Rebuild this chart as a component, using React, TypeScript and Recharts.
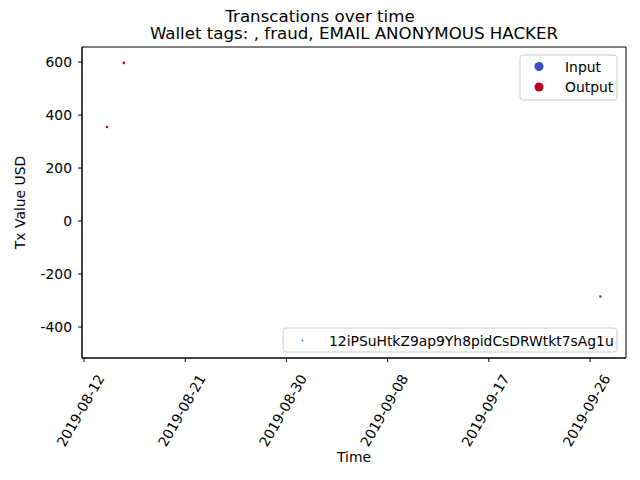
import React from 'react';
import { ScatterChart, Scatter, XAxis, YAxis, Label, ReferenceArea } from 'recharts';

// ---- data ----
const txTimes = ['2019-08-14T01:00:00Z', '2019-08-15T13:00:00Z', '2019-09-26T22:00:00Z'];
const txValuesUSD = [355, 597, -285];
const txDirections = ['Output', 'Output', 'Input'];
const xTickDates = ['2019-08-12', '2019-08-21', '2019-08-30', '2019-09-08', '2019-09-17', '2019-09-26'];
const yTicks = [-400, -200, 0, 200, 400, 600];
const directionLabels = ['Input', 'Output'];
const walletAddress = '12iPSuHtkZ9ap9Yh8pidCsDRWtkt7sAg1u';
const walletTags = ['', 'fraud', 'EMAIL ANONYMOUS HACKER'];
const suptitle = 'Transcations over time';

// ---- styling ----
const FONT = '"DejaVu Sans", sans-serif';
const FS = 13.89;
const dirColors: Record<string, string> = { Input: '#3b4cc0', Output: '#b40426' };
const DAY = 86400000;
const t0 = Date.parse(xTickDates[0] + 'T00:00:00Z');
const xDomain = [t0 - 0.18 * DAY, t0 + 48.2 * DAY];
const yDomain = [-517, 657];

const data = txTimes.map((t, i) => ({
  t: Date.parse(t),
  v: txValuesUSD[i],
  dir: txDirections[i],
}));
const xTicks = xTickDates.map((d) => Date.parse(d + 'T00:00:00Z'));
const fmtDate = (ms: number) => new Date(ms).toISOString().slice(0, 10);

const XTick = (props: any) => {
  const { x, y, payload } = props;
  const ax = x + 21;
  const ay = y + 14;
  return (
    <text
      x={ax}
      y={ay}
      transform={`rotate(-60, ${ax}, ${ay})`}
      textAnchor="end"
      fontFamily={FONT}
      fontSize={FS}
      fill="#000"
    >
      {fmtDate(payload.value)}
    </text>
  );
};

const Dot = (props: any) => {
  const { cx, cy, payload } = props;
  return <circle cx={cx} cy={cy} r={1.3} fill={dirColors[payload.dir]} />;
};

export default function App() {
  return (
    <div style={{ position: 'absolute', left: 0, top: 0, width: 640, height: 480, background: '#fff' }}>
      <ScatterChart width={640} height={480} margin={{ top: 47, right: 14, bottom: 0, left: 0 }}>
        <XAxis
          dataKey="t"
          type="number"
          domain={xDomain}
          allowDataOverflow
          ticks={xTicks}
          interval={0}
          height={122}
          tickSize={4}
          tickMargin={2}
          tick={<XTick />}
          stroke="#000"
          tickLine={{ stroke: '#000' }}
          axisLine={{ stroke: '#000' }}
        >
          <Label value="Time" position="insideBottom" offset={18} fontFamily={FONT} fontSize={FS} fill="#000" />
        </XAxis>
        <YAxis
          dataKey="v"
          type="number"
          domain={yDomain}
          allowDataOverflow
          ticks={yTicks}
          interval={0}
          width={82}
          tickSize={4}
          tickMargin={6}
          tick={{ fontFamily: FONT, fontSize: FS, fill: '#000' }}
          tickLine={{ stroke: '#000' }}
          axisLine={{ stroke: '#000' }}
        >
          <Label value="Tx Value USD" angle={-90} position="center" dx={-21} fontFamily={FONT} fontSize={FS} fill="#000" />
        </YAxis>
        <ReferenceArea
          x1={xDomain[0]}
          x2={xDomain[1]}
          y1={yDomain[0]}
          y2={yDomain[1]}
          fill="none"
          fillOpacity={0}
          stroke="#000"
          strokeOpacity={1}
          ifOverflow="visible"
        />
        <Scatter
          name={walletAddress}
          data={data}
          shape={<Dot />}
          isAnimationActive={false}
        />
      </ScatterChart>
      <svg
        width={640}
        height={480}
        style={{ position: 'absolute', left: 0, top: 0, pointerEvents: 'none' }}
      >
        <text x={320} y={22} textAnchor="middle" fontFamily={FONT} fontSize={16.67} fill="#000">
          {suptitle}
        </text>
        <text x={354} y={39} textAnchor="middle" fontFamily={FONT} fontSize={16.67} fill="#000">
          {'Wallet tags: ' + walletTags.join(', ')}
        </text>
        {/* hue legend */}
        <rect x={520} y={55} width={97} height={45} rx={3} fill="#fff" fillOpacity={0.8} stroke="#cccccc" />
        {directionLabels.map((lab, i) => (
          <g key={lab}>
            <circle cx={539} cy={66.5 + i * 20.5} r={4.5} fill={dirColors[lab]} />
            <text x={565} y={71.5 + i * 20.5} fontFamily={FONT} fontSize={FS} fill="#000">
              {lab}
            </text>
          </g>
        ))}
        {/* address legend */}
        <rect x={283} y={328} width={334} height={24} rx={3} fill="#fff" fillOpacity={0.8} stroke="#cccccc" />
        <circle cx={302.5} cy={340.5} r={0.9} fill="#1f77b4" />
        <text x={329} y={345.5} fontFamily={FONT} fontSize={FS} fill="#000">
          {walletAddress}
        </text>
      </svg>
    </div>
  );
}
